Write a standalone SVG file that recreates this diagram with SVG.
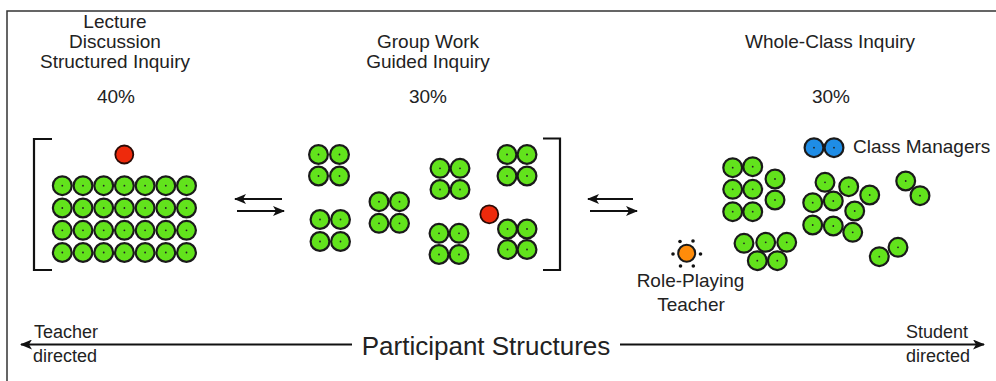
<svg xmlns="http://www.w3.org/2000/svg" xmlns:xlink="http://www.w3.org/1999/xlink" width="996" height="381" viewBox="0 0 996 381">
<style>
text{font-family:"Liberation Sans",Arial,sans-serif;fill:#222}
.t{font-size:19px;text-anchor:middle}
.s{font-size:18px}
.big{font-size:26px;text-anchor:middle}
.br{fill:none;stroke:#111;stroke-width:2.2}
.ln{fill:none;stroke:#111;stroke-width:2}
.frame{fill:none;stroke:#333;stroke-width:1.5}
</style>
<defs>
<g id="st"><circle r="9.4" fill="#62e31c" stroke="#1a1a1a" stroke-width="2.2"/><circle r="0.9" fill="#222"/></g>
<g id="rd"><circle r="9" fill="#ee2a0c" stroke="#2a0a05" stroke-width="1.8"/></g>
<g id="bl"><circle r="9.4" fill="#1f8de6" stroke="#1a1a1a" stroke-width="2.2"/><circle r="0.9" fill="#222"/></g>
<marker id="ah" viewBox="0 0 12 10" refX="11" refY="5" markerWidth="12" markerHeight="10" markerUnits="userSpaceOnUse" orient="auto">
<path d="M0,0 L12,5 L0,10 L3,5 z" fill="#111"/>
</marker>
</defs>
<rect class="frame" x="7" y="11" width="1010" height="400"/>

<g id="lecture">
<text class="t" x="115" y="28">Lecture</text>
<text class="t" x="115" y="48">Discussion</text>
<text class="t" x="115" y="68">Structured Inquiry</text>
<text class="t" x="116" y="103">40%</text>
<path class="br" d="M52,139 H34 V270 H52"/>
<use href="#rd" x="124.3" y="154.5"/>
<g id="grid">
<use href="#st" x="62.3" y="185.7"/><use href="#st" x="83" y="185.7"/><use href="#st" x="103.7" y="185.7"/><use href="#st" x="124.4" y="185.7"/><use href="#st" x="145.1" y="185.7"/><use href="#st" x="165.8" y="185.7"/><use href="#st" x="186.5" y="185.7"/>
<use href="#st" x="62.3" y="208"/><use href="#st" x="83" y="208"/><use href="#st" x="103.7" y="208"/><use href="#st" x="124.4" y="208"/><use href="#st" x="145.1" y="208"/><use href="#st" x="165.8" y="208"/><use href="#st" x="186.5" y="208"/>
<use href="#st" x="62.3" y="230.3"/><use href="#st" x="83" y="230.3"/><use href="#st" x="103.7" y="230.3"/><use href="#st" x="124.4" y="230.3"/><use href="#st" x="145.1" y="230.3"/><use href="#st" x="165.8" y="230.3"/><use href="#st" x="186.5" y="230.3"/>
<use href="#st" x="62.3" y="252.5"/><use href="#st" x="83" y="252.5"/><use href="#st" x="103.7" y="252.5"/><use href="#st" x="124.4" y="252.5"/><use href="#st" x="145.1" y="252.5"/><use href="#st" x="165.8" y="252.5"/><use href="#st" x="186.5" y="252.5"/>
</g>
</g>

<g id="groupwork">
<text class="t" x="428" y="48">Group Work</text>
<text class="t" x="428" y="68">Guided Inquiry</text>
<text class="t" x="428" y="103">30%</text>
<path class="br" d="M543,138.5 H560 V270 H543"/>
<use href="#st" x="318.5" y="154.5"/><use href="#st" x="339.5" y="154.5"/><use href="#st" x="318.5" y="176"/><use href="#st" x="339.5" y="176"/>
<use href="#st" x="320" y="219.5"/><use href="#st" x="340.5" y="219.5"/><use href="#st" x="320" y="241.5"/><use href="#st" x="340.5" y="241.5"/>
<use href="#st" x="379" y="201.7"/><use href="#st" x="399.5" y="201.7"/><use href="#st" x="379" y="223.3"/><use href="#st" x="399.5" y="223.3"/>
<use href="#st" x="440" y="168.3"/><use href="#st" x="460" y="168.3"/><use href="#st" x="440" y="189.5"/><use href="#st" x="460" y="189.5"/>
<use href="#st" x="439" y="233.3"/><use href="#st" x="459" y="233.3"/><use href="#st" x="439" y="254.5"/><use href="#st" x="459" y="254.5"/>
<use href="#st" x="507" y="154.5"/><use href="#st" x="527" y="154.5"/><use href="#st" x="507" y="176"/><use href="#st" x="527" y="176"/>
<use href="#st" x="507.5" y="229"/><use href="#st" x="527" y="229"/><use href="#st" x="507.5" y="249.5"/><use href="#st" x="527" y="249.5"/>
<use href="#rd" x="489.3" y="214.3"/>
</g>

<g id="wholeclass">
<text class="t" x="830" y="48">Whole-Class Inquiry</text>
<text class="t" x="831" y="103">30%</text>
<use href="#bl" x="814" y="147.7"/><use href="#bl" x="834" y="147.7"/>
<text class="t" style="text-anchor:start" x="853" y="153">Class Managers</text>
<use href="#st" x="732.7" y="167.7"/><use href="#st" x="752.7" y="166.7"/><use href="#st" x="775" y="179"/>
<use href="#st" x="732.7" y="189.3"/><use href="#st" x="752.7" y="189.3"/><use href="#st" x="775" y="200"/>
<use href="#st" x="732.7" y="211.7"/><use href="#st" x="752.7" y="211.7"/>
<use href="#st" x="744" y="243.3"/><use href="#st" x="765.7" y="242.3"/><use href="#st" x="786.7" y="242.3"/><use href="#st" x="757.3" y="260.7"/><use href="#st" x="777.3" y="260.7"/>
<use href="#st" x="825" y="182.3"/><use href="#st" x="848.7" y="186.7"/><use href="#st" x="869.7" y="195"/>
<use href="#st" x="812.7" y="202.7"/><use href="#st" x="833.3" y="201"/><use href="#st" x="854.7" y="211"/>
<use href="#st" x="812.7" y="225"/><use href="#st" x="833.3" y="226"/><use href="#st" x="852.7" y="232.3"/>
<use href="#st" x="905.7" y="181"/><use href="#st" x="920" y="195.7"/>
<use href="#st" x="879.3" y="256.7"/><use href="#st" x="898" y="247.3"/>
</g>

<g id="teacher">
<circle cx="686.7" cy="253.3" r="8.5" fill="#ff8c0a" stroke="#1a1a1a" stroke-width="2"/>
<g fill="#111">
<circle cx="673" cy="254" r="1.8"/><circle cx="700.5" cy="254" r="1.8"/>
<circle cx="680" cy="241.5" r="1.8"/><circle cx="693" cy="241" r="1.8"/>
<circle cx="680.5" cy="266" r="1.8"/><circle cx="693.3" cy="266" r="1.8"/>
</g>
<text class="t" x="690.5" y="287">Role-Playing</text>
<text class="t" x="691" y="311">Teacher</text>
</g>

<g id="axis">
<text class="big" x="486" y="355">Participant Structures</text>
<text class="s" x="34" y="338">Teacher</text>
<text class="s" x="33" y="362">directed</text>
<text class="s" style="text-anchor:end" x="968" y="338">Student</text>
<text class="s" style="text-anchor:end" x="970" y="362">directed</text>
</g>

<g id="connectors">
<line class="ln" x1="282" y1="199" x2="235" y2="199" marker-end="url(#ah)"/>
<line class="ln" x1="237" y1="211" x2="284" y2="211" marker-end="url(#ah)"/>
<line class="ln" x1="633" y1="199" x2="588" y2="199" marker-end="url(#ah)"/>
<line class="ln" x1="590" y1="211" x2="637" y2="211" marker-end="url(#ah)"/>
<line class="ln" x1="352" y1="344.5" x2="21" y2="344.5" marker-end="url(#ah)"/>
<line class="ln" x1="620" y1="344.5" x2="984" y2="344.5" marker-end="url(#ah)"/>
</g>
</svg>
